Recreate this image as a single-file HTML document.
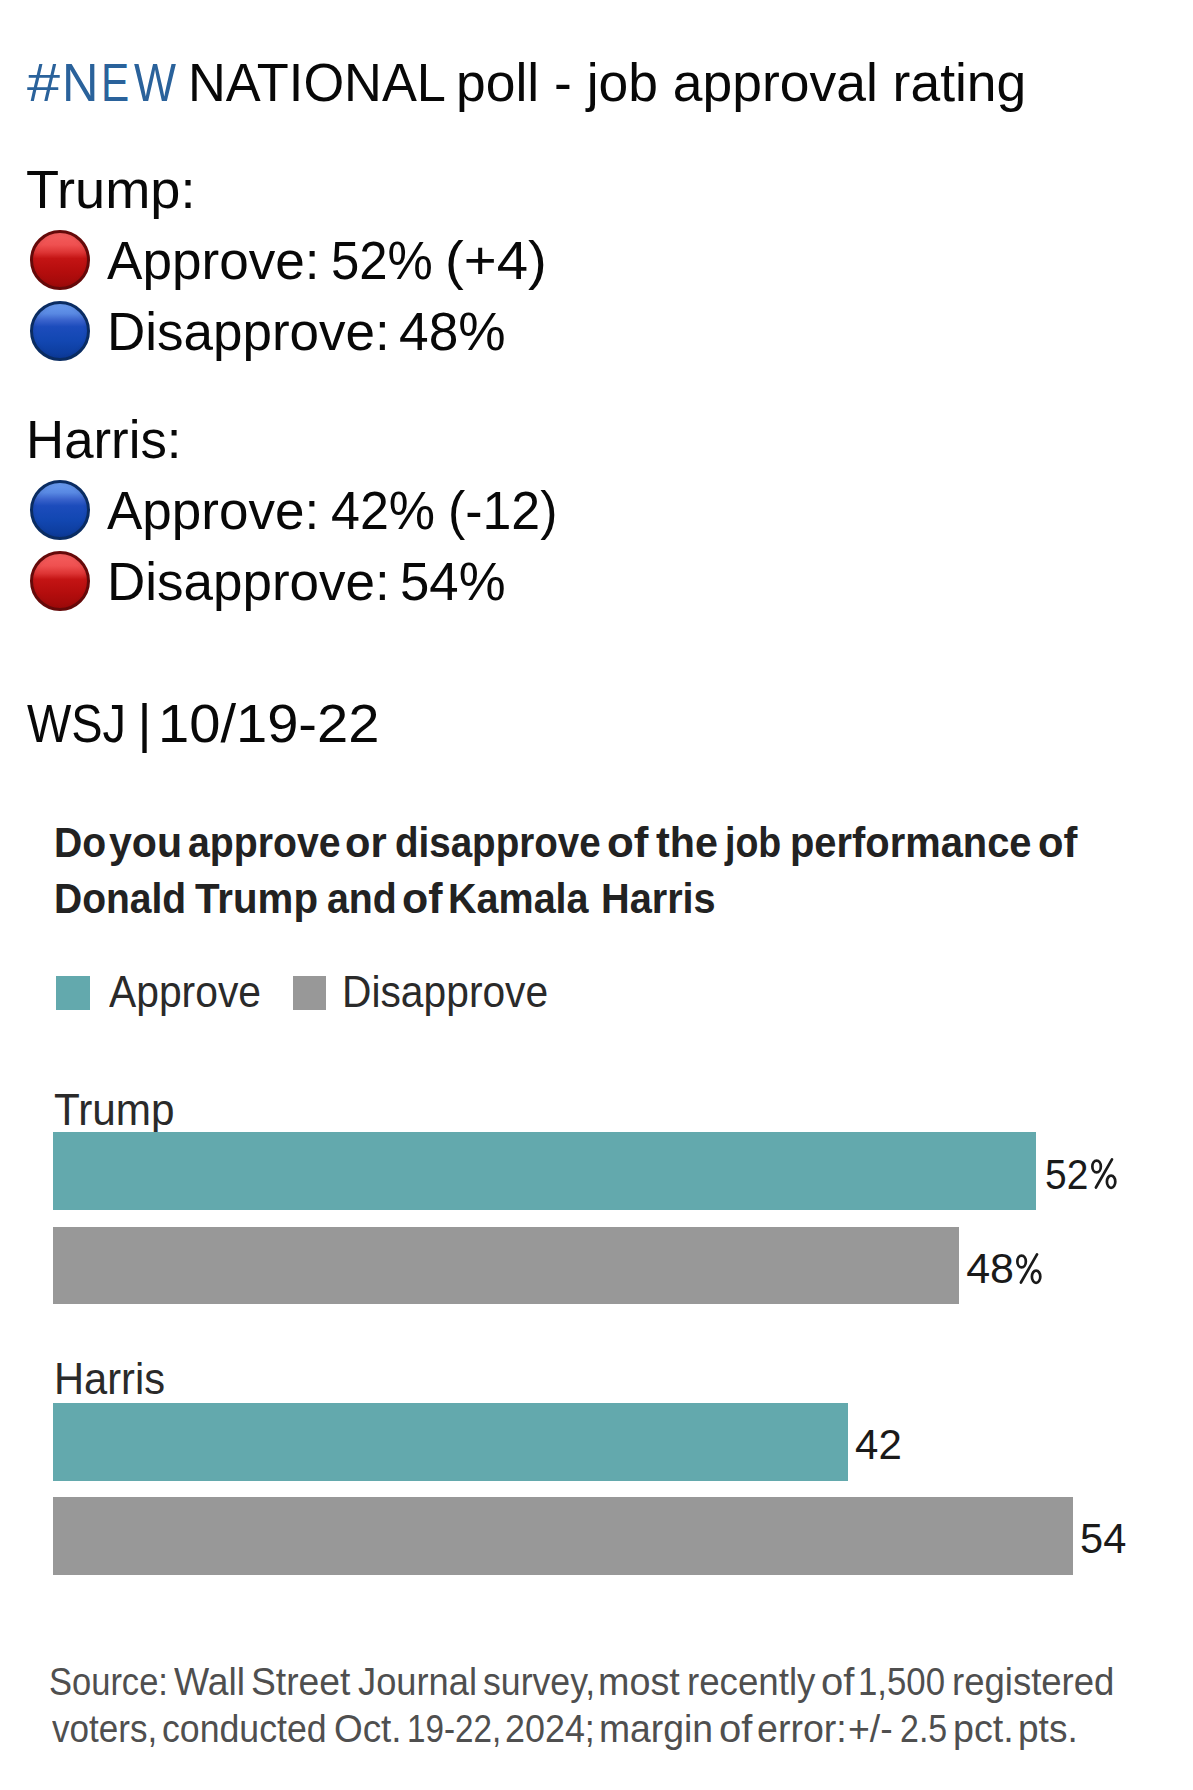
<!DOCTYPE html>
<html><head><meta charset="utf-8"><style>
html,body{margin:0;padding:0;background:#fff;}
body{width:1193px;height:1790px;position:relative;overflow:hidden;font-family:"Liberation Sans",sans-serif;}
.t{position:absolute;white-space:nowrap;line-height:1;}
.r{position:absolute;}
.c{position:absolute;width:60px;height:60px;border-radius:50%;box-sizing:border-box;}
.red{border:3px solid #650909;background:radial-gradient(circle at 50% 50%, rgba(0,0,0,0) 60%, rgba(60,0,0,0.2) 100%), linear-gradient(#f45e5e 0%, #ef5050 22%, #dd3434 36%, #c41414 47%, #b40d0d 72%, #9e0909 100%);}
.blue{border:3px solid #0a2c62;background:radial-gradient(circle at 50% 50%, rgba(0,0,0,0) 60%, rgba(0,0,40,0.2) 100%), linear-gradient(#6a9cf0 0%, #5888e2 18%, #3a63cc 30%, #1c4cbc 42%, #1247b2 68%, #0b3a98 100%);}
</style></head><body>
<div class="t" style="left:27.4px;top:54.8px;font-size:54px;color:#2a629b;transform:scaleX(1.1);transform-origin:0 0;">#</div>
<div class="t" style="left:61.6px;top:54.8px;font-size:54px;color:#2a629b;transform:scaleX(0.935);transform-origin:0 0;">N</div>
<div class="t" style="left:100.7px;top:54.8px;font-size:54px;color:#2a629b;transform:scaleX(0.783);transform-origin:0 0;">E</div>
<div class="t" style="left:134.0px;top:54.8px;font-size:54px;color:#2a629b;transform:scaleX(0.824);transform-origin:0 0;">W</div>
<div class="t" style="left:188.4px;top:54.8px;font-size:54px;color:#080808;transform:scaleX(0.9696);transform-origin:0 0;">NATIONAL</div>
<div class="t" style="left:455.5px;top:54.8px;font-size:54px;color:#080808;transform:scaleX(0.9895);transform-origin:0 0;">poll - job approval rating</div>
<div class="t" style="left:25.8px;top:161.8px;font-size:54px;color:#080808;transform:scaleX(1.0025);transform-origin:0 0;">Trump:</div>
<div class="t" style="left:106.6px;top:233.1px;font-size:54px;color:#080808;transform:scaleX(0.9834);transform-origin:0 0;">Approve:</div>
<div class="t" style="left:331.1px;top:233.1px;font-size:54px;color:#080808;transform:scaleX(0.9423);transform-origin:0 0;">52%</div>
<div class="t" style="left:444.6px;top:233.1px;font-size:54px;color:#080808;transform:scaleX(1.0429);transform-origin:0 0;">(+4)</div>
<div class="t" style="left:106.7px;top:303.8px;font-size:54px;color:#080808;transform:scaleX(0.9810);transform-origin:0 0;">Disapprove:</div>
<div class="t" style="left:399.1px;top:303.8px;font-size:54px;color:#080808;transform:scaleX(0.9867);transform-origin:0 0;">48%</div>
<div class="t" style="left:26.1px;top:411.8px;font-size:54px;color:#080808;transform:scaleX(0.9780);transform-origin:0 0;">Harris:</div>
<div class="t" style="left:107.0px;top:482.6px;font-size:54px;color:#080808;transform:scaleX(0.9815);transform-origin:0 0;">Approve:</div>
<div class="t" style="left:330.5px;top:482.6px;font-size:54px;color:#080808;transform:scaleX(0.9629);transform-origin:0 0;">42%</div>
<div class="t" style="left:447.8px;top:482.6px;font-size:54px;color:#080808;transform:scaleX(0.9602);transform-origin:0 0;">(-12)</div>
<div class="t" style="left:106.7px;top:554.3px;font-size:54px;color:#080808;transform:scaleX(0.9810);transform-origin:0 0;">Disapprove:</div>
<div class="t" style="left:399.6px;top:554.3px;font-size:54px;color:#080808;transform:scaleX(0.9769);transform-origin:0 0;">54%</div>
<div class="t" style="left:26.7px;top:696.0px;font-size:54px;color:#080808;transform:scaleX(0.8691);transform-origin:0 0;">WSJ</div>
<div class="t" style="left:158.3px;top:696.0px;font-size:54px;color:#080808;transform:scaleX(1.0386);transform-origin:0 0;">10/19-22</div>
<div class="t" style="left:137.5px;top:696.0px;font-size:54px;color:#080808;">|</div>
<div class="c red" style="left:29.6px;top:230.3px"></div>
<div class="c blue" style="left:29.6px;top:301.0px"></div>
<div class="c blue" style="left:29.6px;top:479.8px"></div>
<div class="c red" style="left:29.6px;top:551.2px"></div>
<div class="t" style="left:54.0px;top:822.4px;font-size:42px;color:#222;font-weight:700;transform:scaleX(0.9314);transform-origin:0 0;">Do</div>
<div class="t" style="left:108.5px;top:822.4px;font-size:42px;color:#222;font-weight:700;transform:scaleX(0.9789);transform-origin:0 0;">you</div>
<div class="t" style="left:188.3px;top:822.4px;font-size:42px;color:#222;font-weight:700;transform:scaleX(0.9335);transform-origin:0 0;">approve</div>
<div class="t" style="left:344.9px;top:822.4px;font-size:42px;color:#222;font-weight:700;transform:scaleX(0.9900);transform-origin:0 0;">or</div>
<div class="t" style="left:395.2px;top:822.4px;font-size:42px;color:#222;font-weight:700;transform:scaleX(0.9176);transform-origin:0 0;">disapprove</div>
<div class="t" style="left:606.7px;top:822.4px;font-size:42px;color:#222;font-weight:700;transform:scaleX(1.0447);transform-origin:0 0;">of</div>
<div class="t" style="left:655.8px;top:822.4px;font-size:42px;color:#222;font-weight:700;transform:scaleX(0.9820);transform-origin:0 0;">the</div>
<div class="t" style="left:724.9px;top:822.4px;font-size:42px;color:#222;font-weight:700;transform:scaleX(0.8935);transform-origin:0 0;">job</div>
<div class="t" style="left:790.1px;top:822.4px;font-size:42px;color:#222;font-weight:700;transform:scaleX(0.9492);transform-origin:0 0;">performance</div>
<div class="t" style="left:1038.3px;top:822.4px;font-size:42px;color:#222;font-weight:700;transform:scaleX(0.9921);transform-origin:0 0;">of</div>
<div class="t" style="left:53.7px;top:878.0px;font-size:42px;color:#222;font-weight:700;transform:scaleX(0.9285);transform-origin:0 0;">Donald</div>
<div class="t" style="left:195.1px;top:878.0px;font-size:42px;color:#222;font-weight:700;transform:scaleX(0.9583);transform-origin:0 0;">Trump</div>
<div class="t" style="left:327.0px;top:878.0px;font-size:42px;color:#222;font-weight:700;transform:scaleX(0.9352);transform-origin:0 0;">and</div>
<div class="t" style="left:402.2px;top:878.0px;font-size:42px;color:#222;font-weight:700;transform:scaleX(1.0211);transform-origin:0 0;">of</div>
<div class="t" style="left:448.4px;top:878.0px;font-size:42px;color:#222;font-weight:700;transform:scaleX(0.9408);transform-origin:0 0;">Kamala</div>
<div class="t" style="left:600.6px;top:878.0px;font-size:42px;color:#222;font-weight:700;transform:scaleX(0.9444);transform-origin:0 0;">Harris</div>
<div class="r" style="left:56.0px;top:976.0px;width:34.0px;height:34.0px;background:#63a9ad"></div>
<div class="r" style="left:292.6px;top:976.0px;width:33.4px;height:34.0px;background:#989898"></div>
<div class="t" style="left:108.8px;top:970.8px;font-size:43.5px;color:#2a2a2a;transform:scaleX(0.9380);transform-origin:0 0;">Approve</div>
<div class="t" style="left:342.1px;top:970.8px;font-size:43.5px;color:#2a2a2a;transform:scaleX(0.9370);transform-origin:0 0;">Disapprove</div>
<div class="t" style="left:53.8px;top:1087.6px;font-size:44px;color:#2a2a2a;transform:scaleX(0.9610);transform-origin:0 0;">Trump</div>
<div class="r" style="left:53.4px;top:1132.0px;width:983.0px;height:78.4px;background:#63a9ad"></div>
<div class="r" style="left:53.4px;top:1226.7px;width:905.4px;height:77.8px;background:#989898"></div>
<div class="t" style="left:54.0px;top:1357.3px;font-size:44px;color:#2a2a2a;transform:scaleX(0.9460);transform-origin:0 0;">Harris</div>
<div class="r" style="left:53.4px;top:1402.6px;width:794.2px;height:78.2px;background:#63a9ad"></div>
<div class="r" style="left:53.4px;top:1496.7px;width:1019.4px;height:77.9px;background:#989898"></div>
<div class="t" style="left:1044.5px;top:1153.0px;font-size:43px;color:#1a1a1a;transform:scaleX(0.9050);transform-origin:0 0;">52</div>
<svg class="r" style="left:1089.5px;top:1156.4px" width="30" height="36" viewBox="-1 -33 30 36"><g fill="none" stroke="#1a1a1a" stroke-width="2.7"><ellipse cx="5.6" cy="-22.5" rx="4.25" ry="5.9"/><ellipse cx="20.1" cy="-7.3" rx="4.2" ry="6.1"/><line x1="4.9" y1="-1.5" x2="21.0" y2="-29.6" stroke-linecap="round"/></g></svg>
<div class="t" style="left:966.2px;top:1247.2px;font-size:43px;color:#1a1a1a;transform:scaleX(1.0000);transform-origin:0 0;">48</div>
<svg class="r" style="left:1015.2px;top:1250.6px" width="30" height="36" viewBox="-1 -33 30 36"><g fill="none" stroke="#1a1a1a" stroke-width="2.7"><ellipse cx="5.6" cy="-22.5" rx="4.25" ry="5.9"/><ellipse cx="20.1" cy="-7.3" rx="4.2" ry="6.1"/><line x1="4.9" y1="-1.5" x2="21.0" y2="-29.6" stroke-linecap="round"/></g></svg>
<div class="t" style="left:854.6px;top:1422.8px;font-size:43px;color:#1a1a1a;transform:scaleX(0.9780);transform-origin:0 0;">42</div>
<div class="t" style="left:1080.4px;top:1517.4px;font-size:43px;color:#1a1a1a;transform:scaleX(0.9670);transform-origin:0 0;">54</div>
<div class="t" style="left:49.1px;top:1663.3px;font-size:38px;color:#4f4f4f;transform:scaleX(0.9079);transform-origin:0 0;">Source:</div>
<div class="t" style="left:174.0px;top:1663.3px;font-size:38px;color:#4f4f4f;transform:scaleX(0.9814);transform-origin:0 0;">Wall</div>
<div class="t" style="left:251.1px;top:1663.3px;font-size:38px;color:#4f4f4f;transform:scaleX(0.9798);transform-origin:0 0;">Street</div>
<div class="t" style="left:357.8px;top:1663.3px;font-size:38px;color:#4f4f4f;transform:scaleX(0.9545);transform-origin:0 0;">Journal</div>
<div class="t" style="left:483.3px;top:1663.3px;font-size:38px;color:#4f4f4f;transform:scaleX(0.9383);transform-origin:0 0;">survey,</div>
<div class="t" style="left:597.8px;top:1663.3px;font-size:38px;color:#4f4f4f;transform:scaleX(0.9924);transform-origin:0 0;">most</div>
<div class="t" style="left:686.6px;top:1663.3px;font-size:38px;color:#4f4f4f;transform:scaleX(0.9654);transform-origin:0 0;">recently</div>
<div class="t" style="left:821.1px;top:1663.3px;font-size:38px;color:#4f4f4f;transform:scaleX(1.0533);transform-origin:0 0;">of</div>
<div class="t" style="left:858.0px;top:1663.3px;font-size:38px;color:#4f4f4f;transform:scaleX(0.9154);transform-origin:0 0;">1,500</div>
<div class="t" style="left:951.7px;top:1663.3px;font-size:38px;color:#4f4f4f;transform:scaleX(0.9610);transform-origin:0 0;">registered</div>
<div class="t" style="left:52.0px;top:1710.1px;font-size:38px;color:#4f4f4f;transform:scaleX(0.9225);transform-origin:0 0;">voters,</div>
<div class="t" style="left:162.3px;top:1710.1px;font-size:38px;color:#4f4f4f;transform:scaleX(0.9386);transform-origin:0 0;">conducted</div>
<div class="t" style="left:333.7px;top:1710.1px;font-size:38px;color:#4f4f4f;transform:scaleX(0.9703);transform-origin:0 0;">Oct.</div>
<div class="t" style="left:407.1px;top:1710.1px;font-size:38px;color:#4f4f4f;transform:scaleX(0.8743);transform-origin:0 0;">19-22,</div>
<div class="t" style="left:505.3px;top:1710.1px;font-size:38px;color:#4f4f4f;transform:scaleX(0.9444);transform-origin:0 0;">2024;</div>
<div class="t" style="left:599.1px;top:1710.1px;font-size:38px;color:#4f4f4f;transform:scaleX(0.9820);transform-origin:0 0;">margin</div>
<div class="t" style="left:718.6px;top:1710.1px;font-size:38px;color:#4f4f4f;transform:scaleX(1.0533);transform-origin:0 0;">of</div>
<div class="t" style="left:756.8px;top:1710.1px;font-size:38px;color:#4f4f4f;transform:scaleX(0.9882);transform-origin:0 0;">error:</div>
<div class="t" style="left:848.4px;top:1710.1px;font-size:38px;color:#4f4f4f;transform:scaleX(0.9857);transform-origin:0 0;">+/-</div>
<div class="t" style="left:899.7px;top:1710.1px;font-size:38px;color:#4f4f4f;transform:scaleX(0.8939);transform-origin:0 0;">2.5</div>
<div class="t" style="left:953.2px;top:1710.1px;font-size:38px;color:#4f4f4f;transform:scaleX(0.9891);transform-origin:0 0;">pct.</div>
<div class="t" style="left:1017.8px;top:1710.1px;font-size:38px;color:#4f4f4f;transform:scaleX(0.9745);transform-origin:0 0;">pts.</div>
</body></html>
